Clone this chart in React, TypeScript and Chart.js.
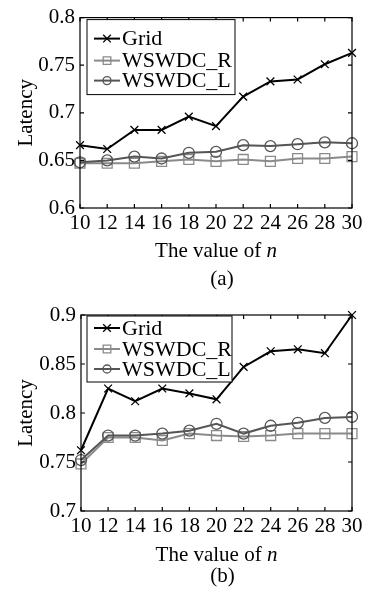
import React, { useEffect, useRef } from "react";
import { Chart, registerables } from "chart.js";

Chart.register(...registerables);

// ---- data ----
const nValues = [10, 12, 14, 16, 18, 20, 22, 24, 26, 28, 30];
const xTickLabels = ["10", "12", "14", "16", "18", "20", "22", "24", "26", "28", "30"];
const seriesNames = ["Grid", "WSWDC_R", "WSWDC_L"];

const gridA = [0.666, 0.662, 0.682, 0.682, 0.696, 0.686, 0.717, 0.733, 0.735, 0.751, 0.763];
const rA = [0.647, 0.647, 0.647, 0.649, 0.651, 0.649, 0.651, 0.649, 0.652, 0.652, 0.654];
const lA = [0.648, 0.650, 0.654, 0.652, 0.658, 0.659, 0.666, 0.665, 0.667, 0.669, 0.668];
const yTicksA = [0.6, 0.65, 0.7, 0.75, 0.8];
const yTickLabelsA = ["0.6", "0.65", "0.7", "0.75", "0.8"];

const gridB = [0.762, 0.825, 0.812, 0.825, 0.820, 0.814, 0.847, 0.863, 0.865, 0.861, 0.900];
const rB = [0.748, 0.775, 0.775, 0.772, 0.779, 0.777, 0.776, 0.777, 0.779, 0.779, 0.779];
const lB = [0.752, 0.777, 0.777, 0.779, 0.782, 0.789, 0.779, 0.787, 0.790, 0.795, 0.796];
const yTicksB = [0.7, 0.75, 0.8, 0.85, 0.9];
const yTickLabelsB = ["0.7", "0.75", "0.8", "0.85", "0.9"];

const FONT = "'Liberation Serif', 'Times New Roman', serif";
const FS = 21;
const LEGEND_FS = 22;

function drawMarker(ctx, style, x, y, r, color) {
  ctx.save();
  ctx.strokeStyle = color;
  ctx.lineWidth = 1.3;
  ctx.beginPath();
  if (style === "crossRot") {
    ctx.moveTo(x - r, y - r);
    ctx.lineTo(x + r, y + r);
    ctx.moveTo(x + r, y - r);
    ctx.lineTo(x - r, y + r);
  } else if (style === "rect") {
    ctx.rect(x - r, y - r, 2 * r, 2 * r);
  } else {
    ctx.arc(x, y, r, 0, Math.PI * 2);
  }
  ctx.stroke();
  ctx.restore();
}

const framePlugin = {
  id: "frameAndText",
  afterDraw(chart, args, opts) {
    const ctx = chart.ctx;
    const { left, right, top, bottom } = chart.chartArea;
    const xs = chart.scales.x;
    const ys = chart.scales.y;
    ctx.save();
    ctx.strokeStyle = "#000";
    ctx.lineWidth = 1.2;
    ctx.strokeRect(left, top, right - left, bottom - top);
    const tl = 4;
    ctx.beginPath();
    nValues.forEach((v) => {
      const px = xs.getPixelForValue(v);
      ctx.moveTo(px, bottom);
      ctx.lineTo(px, bottom - tl);
      ctx.moveTo(px, top);
      ctx.lineTo(px, top + tl);
    });
    opts.yTicks.forEach((v) => {
      const py = ys.getPixelForValue(v);
      ctx.moveTo(left, py);
      ctx.lineTo(left + tl, py);
      ctx.moveTo(right, py);
      ctx.lineTo(right - tl, py);
    });
    ctx.stroke();

    // legend
    const lg = opts.legend;
    const bx = left + lg.dx;
    const by = top + lg.dy;
    ctx.fillStyle = "#fff";
    ctx.fillRect(bx, by, lg.w, lg.h);
    ctx.lineWidth = 1;
    ctx.strokeStyle = "#000";
    ctx.strokeRect(bx, by, lg.w, lg.h);
    ctx.font = `${LEGEND_FS}px ${FONT}`;
    ctx.textBaseline = "middle";
    ctx.textAlign = "left";
    chart.data.datasets.forEach((ds, i) => {
      const ry = by + lg.rows[i];
      ctx.strokeStyle = ds.borderColor;
      ctx.lineWidth = 2;
      ctx.beginPath();
      ctx.moveTo(bx + 7, ry);
      ctx.lineTo(bx + 33, ry);
      ctx.stroke();
      drawMarker(ctx, ds.pointStyle, bx + 20, ry, ds.pointStyle === "circle" ? 4 : 3.8, ds.pointBorderColor);
      ctx.fillStyle = "#000";
      ctx.fillText(ds.label, bx + 35, ry + 1);
    });

    // x-axis title with italic n
    ctx.fillStyle = "#000";
    ctx.textBaseline = "alphabetic";
    const part1 = "The value of ";
    const part2 = "n";
    ctx.font = `${FS}px ${FONT}`;
    const w1 = ctx.measureText(part1).width;
    ctx.font = `italic ${FS}px ${FONT}`;
    const w2 = ctx.measureText(part2).width;
    const cx = (left + right) / 2;
    const sx = cx - (w1 + w2) / 2;
    const ty = bottom + opts.titleOffset;
    ctx.font = `${FS}px ${FONT}`;
    ctx.fillText(part1, sx, ty);
    ctx.font = `italic ${FS}px ${FONT}`;
    ctx.fillText(part2, sx + w1, ty);

    // sub-figure label
    ctx.font = `${FS}px ${FONT}`;
    ctx.textAlign = "center";
    ctx.fillText(opts.subLabel, cx + 6, bottom + opts.subOffset);
    ctx.restore();
  },
};

function makeDataset(label, values, color, style, radius, order) {
  return {
    label,
    data: nValues.map((x, i) => ({ x, y: values[i] })),
    borderColor: color,
    borderWidth: 2,
    pointStyle: style,
    pointRadius: radius,
    pointBorderColor: color,
    pointBackgroundColor: "rgba(0,0,0,0)",
    pointBorderWidth: 1.3,
    clip: false,
    order,
    tension: 0,
  };
}

function LatencyChart({ grid, r, l, yTicks, yTickLabels, height, padTop, xHeight, yWidth, legend, titleOffset, subOffset, subLabel }) {
  const ref = useRef(null);
  useEffect(() => {
    const chart = new Chart(ref.current, {
      type: "line",
      data: {
        datasets: [
          makeDataset(seriesNames[0], grid, "#000000", "crossRot", 5.5, 3),
          makeDataset(seriesNames[1], r, "#8a8a8a", "rect", 7, 2),
          makeDataset(seriesNames[2], l, "#555555", "circle", 5.5, 1),
        ],
      },
      options: {
        animation: false,
        responsive: false,
        events: [],
        layout: { padding: { top: padTop, right: 14, left: 0, bottom: 0 } },
        scales: {
          x: {
            type: "linear",
            min: nValues[0],
            max: nValues[nValues.length - 1],
            afterBuildTicks: (s) => {
              s.ticks = nValues.map((v) => ({ value: v }));
            },
            afterFit: (s) => {
              s.height = xHeight;
            },
            grid: { display: false, drawTicks: false },
            border: { display: false },
            ticks: {
              autoSkip: false,
              maxRotation: 0,
              padding: 3,
              color: "#000",
              font: { family: FONT, size: FS },
              callback: (v, i) => xTickLabels[i],
            },
          },
          y: {
            type: "linear",
            min: yTicks[0],
            max: yTicks[yTicks.length - 1],
            afterBuildTicks: (s) => {
              s.ticks = yTicks.map((v) => ({ value: v }));
            },
            afterFit: (s) => {
              s.width = yWidth;
            },
            grid: { display: false, drawTicks: false },
            border: { display: false },
            ticks: {
              padding: 5,
              color: "#000",
              font: { family: FONT, size: FS },
              callback: (v, i) => yTickLabels[i],
            },
            title: {
              display: true,
              text: "Latency",
              color: "#000",
              font: { family: FONT, size: FS },
              padding: { top: 14, bottom: 0 },
            },
          },
        },
        plugins: {
          legend: { display: false },
          tooltip: { enabled: false },
          frameAndText: { yTicks, legend, titleOffset, subOffset, subLabel },
        },
      },
      plugins: [framePlugin],
    });
    return () => chart.destroy();
  }, []);
  return <canvas ref={ref} width={366} height={height} style={{ display: "block", width: 366, height }} />;
}

export default function App() {
  return (
    <div style={{ position: "fixed", left: 0, top: 0, width: 366, height: 593, background: "#fff" }}>
      <LatencyChart
        grid={gridA}
        r={rA}
        l={lA}
        yTicks={yTicksA}
        yTickLabels={yTickLabelsA}
        height={296}
        padTop={13}
        xHeight={88}
        yWidth={80}
        legend={{ dx: 7, dy: 2, w: 148, h: 75, rows: [19, 41, 61] }}
        titleOffset={49}
        subOffset={77}
        subLabel="(a)"
      />
      <LatencyChart
        grid={gridB}
        r={rB}
        l={lB}
        yTicks={yTicksB}
        yTickLabels={yTickLabelsB}
        height={297}
        padTop={19}
        xHeight={82}
        yWidth={81}
        legend={{ dx: 6, dy: 1, w: 145, h: 66, rows: [12, 33, 53] }}
        titleOffset={50}
        subOffset={71}
        subLabel="(b)"
      />
    </div>
  );
}
